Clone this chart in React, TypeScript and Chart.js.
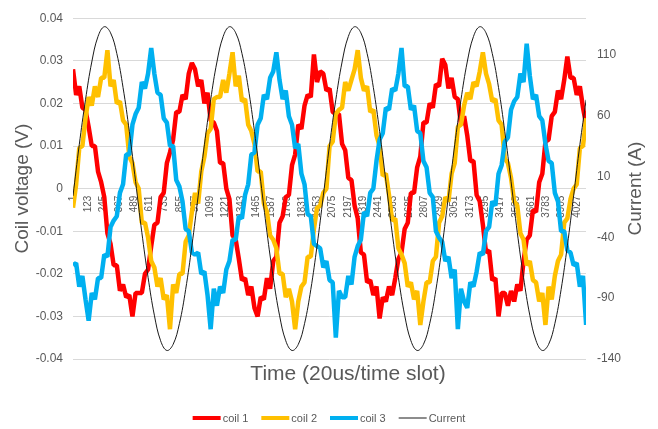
import React, { useEffect, useRef } from "react";
import { Chart, registerables } from "chart.js";

Chart.register(...registerables);

// ---- data ----
// coil samples are stored every 25 time slots, starting at slot 1
const SAMPLE_STEP = 25;
// current samples are stored every 50 time slots, starting at slot 1
const CURRENT_STEP = 50;

const coil1 = [
  0.028, 0.022, 0.024, 0.019, 0.0185, 0.0145, 0.010, 0.010, 0.004, 0.0015, -0.002, -0.0105, -0.013, -0.018, -0.018, -0.024, -0.0225, -0.0255, -0.025, -0.030, -0.0245, -0.0245, -0.0245, -0.020, -0.019, -0.0135, -0.0085, -0.008, -0.002, -0.001, 0.006, 0.0085, 0.0115, 0.018, 0.018, 0.022, 0.021, 0.027, 0.0295, 0.028,
  0.024, 0.0255, 0.020, 0.0225, 0.016, 0.0155, 0.0135, 0.006, 0.006, 0.000, -0.0025, -0.011, -0.012, -0.0165, -0.0215, -0.021, -0.025, -0.023, -0.028, -0.030, -0.0255, -0.026, -0.021, -0.0235, -0.017, -0.016, -0.008, -0.0065, -0.002, -0.0015, 0.0055, 0.008, 0.015, 0.014, 0.0195, 0.022, 0.0215, 0.0315, 0.025, 0.0275,
  0.027, 0.023, 0.0235, 0.018, 0.0175, 0.0175, 0.0105, 0.009, 0.0025, 0.002, -0.004, -0.007, -0.015, -0.0155, -0.022, -0.0215, -0.025, -0.023, -0.0305, -0.0255, -0.0265, -0.023, -0.025, -0.021, -0.0165, -0.015, -0.0095, -0.008, -0.001, -0.001, 0.005, 0.0075, 0.0155, 0.0155, 0.020, 0.019, 0.0245, 0.024, 0.0305, 0.029,
  0.0235, 0.026, 0.0215, 0.021, 0.015, 0.017, 0.0125, 0.0065, 0.0065, -0.0015, -0.003, -0.0085, -0.015, -0.0145, -0.0215, -0.021, -0.030, -0.0245, -0.0245, -0.0275, -0.024, -0.0265, -0.0225, -0.024, -0.017, -0.012, -0.011, -0.005, -0.0055, 0.0015, 0.0035, 0.011, 0.0115, 0.017, 0.018, 0.023, 0.021, 0.0255, 0.031, 0.026,
  0.026, 0.022, 0.024, 0.019, 0.015,
];

const coil2 = [
  -0.0045, 0.001, 0.0095, 0.010, 0.0165, 0.0215, 0.0195, 0.024, 0.0215, 0.026, 0.026, 0.0325, 0.024, 0.0255, 0.020, 0.0205, 0.016, 0.015, 0.0075, 0.006, 0.0015, 0.000, -0.008, -0.008, -0.0115, -0.017, -0.0185, -0.023, -0.021, -0.026, -0.025, -0.033, -0.0225, -0.0245, -0.020, -0.020, -0.0125, -0.011, -0.0055, -0.001,
  -0.0035, 0.004, 0.0075, 0.013, 0.014, 0.021, 0.0215, 0.0215, 0.0255, 0.0225, 0.027, 0.032, 0.024, 0.0265, 0.0205, 0.021, 0.015, 0.0135, 0.0105, 0.004, 0.004, -0.0035, -0.0055, -0.011, -0.012, -0.014, -0.020, -0.020, -0.0255, -0.0235, -0.0265, -0.033, -0.0265, -0.023, -0.022, -0.016, -0.016, -0.0095, -0.0045, -0.004,
  -0.001, 0.000, 0.010, 0.011, 0.0175, 0.0185, 0.019, 0.025, 0.023, 0.0255, 0.028, 0.0325, 0.026, 0.023, 0.024, 0.018, 0.0185, 0.0125, 0.010, 0.003, 0.0035, -0.0015, -0.0075, -0.007, -0.014, -0.0155, -0.0175, -0.023, -0.022, -0.026, -0.024, -0.032, -0.0265, -0.022, -0.022, -0.017, -0.016, -0.008, -0.0065, -0.002,
  -0.003, 0.0035, 0.006, 0.0145, 0.015, 0.0195, 0.0225, 0.021, 0.025, 0.024, 0.0275, 0.032, 0.027, 0.0245, 0.0205, 0.021, 0.016, 0.015, 0.007, 0.006, 0.0025, -0.003, -0.004, -0.0105, -0.012, -0.018, -0.017, -0.0215, -0.022, -0.0265, -0.0245, -0.032, -0.023, -0.026, -0.0205, -0.017, -0.0155, -0.008, -0.007, -0.0025,
  0.000, 0.001, 0.0095, 0.010, 0.0165,
];

const coil3 = [
  -0.018, -0.0175, -0.023, -0.0205, -0.026, -0.031, -0.0245, -0.026, -0.021, -0.021, -0.0155, -0.016, -0.009, -0.0075, -0.0065, -0.001, 0.001, 0.008, 0.008, 0.015, 0.0175, 0.019, 0.025, 0.0235, 0.027, 0.033, 0.027, 0.0225, 0.022, 0.0165, 0.0155, 0.010, 0.010, 0.002, 0.0005, -0.003, -0.0095, -0.010, -0.015, -0.0155,
  -0.015, -0.020, -0.0195, -0.025, -0.033, -0.0235, -0.0275, -0.023, -0.0245, -0.019, -0.017, -0.012, -0.012, -0.0065, -0.007, -0.0015, 0.001, 0.008, 0.0085, 0.015, 0.0165, 0.022, 0.021, 0.026, 0.0275, 0.032, 0.0255, 0.021, 0.023, 0.017, 0.015, 0.0095, 0.0105, 0.0035, 0.001, -0.006, -0.0065, -0.013, -0.0135, -0.014,
  -0.0185, -0.017, -0.0215, -0.022, -0.035, -0.024, -0.0255, -0.0255, -0.0205, -0.0225, -0.016, -0.0135, -0.012, -0.0055, -0.0065, -0.001, 0.000, 0.0065, 0.0115, 0.013, 0.019, 0.0185, 0.0235, 0.023, 0.027, 0.033, 0.024, 0.024, 0.0185, 0.0195, 0.0135, 0.013, 0.0065, 0.005, -0.001, -0.002, -0.010, -0.0115, -0.0125, -0.017,
  -0.016, -0.021, -0.019, -0.033, -0.0235, -0.0265, -0.028, -0.022, -0.023, -0.0195, -0.015, -0.0155, -0.010, -0.009, -0.003, -0.004, 0.0035, 0.0055, 0.011, 0.012, 0.0185, 0.0205, 0.0215, 0.027, 0.025, 0.034, 0.0265, 0.021, 0.022, 0.017, 0.016, 0.0105, 0.0065, 0.006, -0.001, -0.003, -0.010, -0.010, -0.0145, -0.015,
  -0.018, -0.0175, -0.023, -0.0205, -0.032,
];

const currentA = [
  -6, 36, 73, 104, 125, 133, 128, 111, 83, 47, 6, -36, -73, -104, -125, -133, -128, -111, -83, -47,
  -6, 36, 73, 104, 125, 133, 128, 111, 83, 47, 6, -36, -73, -104, -125, -133, -128, -111, -83, -47,
  -6, 36, 73, 104, 125, 133, 128, 111, 83, 47, 6, -36, -73, -104, -125, -133, -128, -111, -83, -47,
  -6, 36, 73, 104, 125, 133, 128, 111, 83, 47, 6, -36, -73, -104, -125, -133, -128, -111, -83, -47,
  -6, 36, 73,
];

const xTickValues = [
  1, 123, 245, 367, 489, 611, 733, 855, 977, 1099, 1221, 1343, 1465, 1587, 1709, 1831, 1953,
  2075, 2197, 2319, 2441, 2563, 2685, 2807, 2929, 3051, 3173, 3295, 3417, 3539, 3661, 3783, 3905, 4027,
];
const yTickValues = [-0.04, -0.03, -0.02, -0.01, 0, 0.01, 0.02, 0.03, 0.04];
const y2TickValues = [-140, -90, -40, 10, 60, 110];

const seriesNames = ["coil 1", "coil 2", "coil 3", "Current"];
const seriesColors = ["#FF0000", "#FFC000", "#00B0F0", "#1a1a1a"];

const X_TITLE = "Time (20us/time slot)";
const Y_TITLE = "Coil voltage (V)";
const Y2_TITLE = "Current (A)";

// ---- styling ----
const FONT = "'Liberation Sans', Arial, sans-serif";
const TEXT_COLOR = "#595959";
const GRID_COLOR = "#d9d9d9";

const textPlugin = {
  id: "excelText",
  afterDraw(chart: any) {
    const { ctx, chartArea } = chart;
    const midY = (chartArea.top + chartArea.bottom) / 2;
    ctx.save();
    ctx.fillStyle = TEXT_COLOR;
    ctx.textAlign = "center";
    ctx.textBaseline = "middle";
    ctx.font = `19px ${FONT}`;
    ctx.save();
    ctx.translate(23, midY);
    ctx.rotate(-Math.PI / 2);
    ctx.fillText(Y_TITLE, 0, 0);
    ctx.restore();
    ctx.save();
    ctx.translate(636, midY);
    ctx.rotate(-Math.PI / 2);
    ctx.fillText(Y2_TITLE, 0, 0);
    ctx.restore();

    ctx.font = `21px ${FONT}`;
    ctx.textBaseline = "alphabetic";
    ctx.fillText(X_TITLE, 348, 380);

    // legend
    ctx.font = `11px ${FONT}`;
    ctx.textAlign = "left";
    ctx.textBaseline = "middle";
    const lineLen = 28;
    const gapText = 2;
    const gapItem = 13;
    const widths = seriesNames.map((n) => lineLen + gapText + ctx.measureText(n).width);
    const total = widths.reduce((a, b) => a + b, 0) + gapItem * (widths.length - 1);
    let x = 329 - total / 2;
    const ly = 418;
    seriesNames.forEach((name, i) => {
      ctx.strokeStyle = seriesColors[i];
      ctx.lineWidth = i < 3 ? 4 : 1;
      ctx.beginPath();
      ctx.moveTo(x, ly);
      ctx.lineTo(x + lineLen, ly);
      ctx.stroke();
      ctx.fillStyle = TEXT_COLOR;
      ctx.fillText(name, x + lineLen + gapText, ly + 0.5);
      x += widths[i] + gapItem;
    });
    ctx.restore();
  },
};

export default function App() {
  const ref = useRef<HTMLCanvasElement>(null);

  useEffect(() => {
    if (!ref.current) return;
    const coilSeries = [coil1, coil2, coil3];
    const datasets: any[] = coilSeries.map((vals, s) => ({
      label: seriesNames[s],
      data: vals.map((v, i) => ({ x: 1 + i * SAMPLE_STEP, y: v })),
      borderColor: seriesColors[s],
      backgroundColor: seriesColors[s],
      borderWidth: 4.5,
      borderJoinStyle: "bevel",
      pointRadius: 0,
      tension: 0,
      yAxisID: "y",
      order: 4 - s,
    }));
    datasets.push({
      label: seriesNames[3],
      data: currentA.map((v, i) => ({ x: 1 + i * CURRENT_STEP, y: v })),
      borderColor: seriesColors[3],
      backgroundColor: seriesColors[3],
      borderWidth: 1,
      pointRadius: 0,
      tension: 0.4,
      yAxisID: "y1",
      order: 0,
    });

    const chart = new Chart(ref.current, {
      type: "line",
      data: { datasets },
      options: {
        responsive: false,
        animation: false,
        events: [],
        layout: { padding: { left: 0, right: 0, top: 11, bottom: 70 } },
        plugins: {
          legend: { display: false },
          title: { display: false },
          tooltip: { enabled: false },
        },
        scales: {
          x: {
            type: "linear",
            min: 1,
            max: 4100,
            position: { y: 0 } as any,
            grid: { display: false, drawTicks: false },
            border: { display: false },
            afterBuildTicks: (scale: any) => {
              scale.ticks = xTickValues.map((v) => ({ value: v }));
            },
            ticks: {
              autoSkip: false,
              minRotation: 90,
              maxRotation: 90,
              padding: 7,
              color: TEXT_COLOR,
              font: { family: FONT, size: 10 },
              callback: (v: any) => String(v),
            },
          },
          y: {
            type: "linear",
            position: "left",
            min: -0.04,
            max: 0.04,
            afterBuildTicks: (scale: any) => {
              scale.ticks = yTickValues.map((v) => ({ value: v }));
            },
            afterFit: (scale: any) => {
              scale.width = 73;
            },
            grid: { color: GRID_COLOR, lineWidth: 1, drawTicks: false },
            border: { display: false },
            ticks: {
              padding: 10,
              color: TEXT_COLOR,
              font: { family: FONT, size: 12 },
              callback: (v: any) => (v === 0 ? "0" : Number(v).toFixed(2)),
            },
          },
          y1: {
            type: "linear",
            position: "right",
            min: -140,
            max: 140,
            afterBuildTicks: (scale: any) => {
              scale.ticks = y2TickValues.map((v) => ({ value: v }));
            },
            afterFit: (scale: any) => {
              scale.width = 72;
            },
            grid: { display: false, drawTicks: false },
            border: { display: false },
            ticks: {
              padding: 11,
              color: TEXT_COLOR,
              font: { family: FONT, size: 12 },
              callback: (v: any) => String(v),
            },
          },
        },
      },
      plugins: [textPlugin],
    });
    return () => chart.destroy();
  }, []);

  return (
    <div
      style={{
        position: "fixed",
        left: 0,
        top: 0,
        width: 658,
        height: 429,
        background: "#ffffff",
      }}
    >
      <canvas
        ref={ref}
        width={658}
        height={429}
        style={{ display: "block", width: 658, height: 429 }}
      />
    </div>
  );
}
